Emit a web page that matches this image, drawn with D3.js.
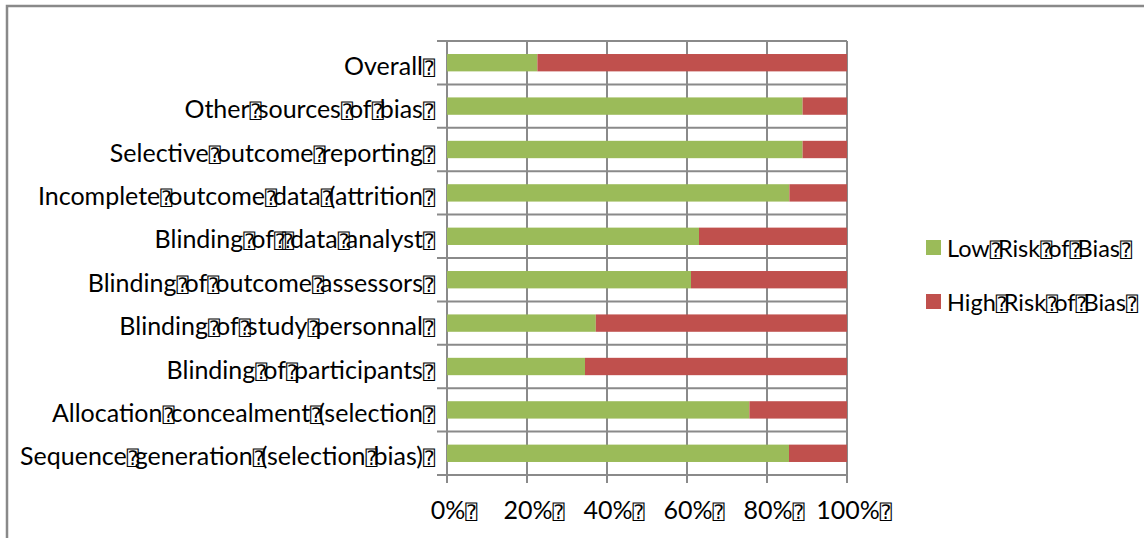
<!DOCTYPE html>
<html><head><meta charset="utf-8">
<script src="https://cdn.jsdelivr.net/npm/d3@7"></script>
<style>
body{margin:0;background:#fff}
text{font-family:Lato, "Open Sans", sans-serif; fill:#000}
.box{font-family:"DejaVu Sans Mono", monospace; font-size:20px; letter-spacing:-4px}
</style>
</head><body><svg id="c" width="1144" height="538"></svg>
<script>
const categories = ["Overall","Other sources of bias","Selective outcome reporting","Incomplete outcome data (attrition","Blinding of  data analyst","Blinding of outcome assessors","Blinding of study personnal","Blinding of participants","Allocation concealment (selection","Sequence generation (selection bias)"];
const lowRisk  = [0.226,0.889,0.889,0.856,0.630,0.610,0.372,0.345,0.756,0.855];
const highRisk = [0.774,0.111,0.111,0.144,0.370,0.390,0.628,0.655,0.244,0.145];
const seriesNames = ["Low Risk of Bias","High Risk of Bias"];
const seriesColors = ["#9BBB59","#C0504D"];
const tickValues = [0,0.2,0.4,0.6,0.8,1];
const tickLabels = ["0%","20%","40%","60%","80%","100%"];
const BOX = "\u2370";

(function(){
const svg = d3.select("#c");
svg.append("rect").attr("width",1144).attr("height",538).attr("fill","#fff");
svg.append("rect").attr("x",7).attr("y",6).attr("width",1200).attr("height",700)
  .attr("fill","none").attr("stroke","#898989").attr("stroke-width",2.5);

const x = d3.scaleLinear().domain([0,1]).range([447,847]);
const y = d3.scaleBand().domain(categories).range([41,475]).paddingInner(0.6).paddingOuter(0.3);
const step = y.step();
const plotTop = 41, plotBottom = 475;
const grid = "#8a8a8a";

svg.append("g").selectAll("line").data(tickValues).join("line")
  .attr("x1",d=>x(d)).attr("x2",d=>x(d)).attr("y1",plotTop).attr("y2",plotBottom+8)
  .attr("stroke",grid).attr("stroke-width",2);
const bounds = d3.range(categories.length+1).map(i=>plotTop+i*step);
svg.append("g").selectAll("line").data(bounds).join("line")
  .attr("x1",437).attr("x2",x(1)).attr("y1",d=>d).attr("y2",d=>d)
  .attr("stroke",grid).attr("stroke-width",2);

const stacked = categories.map((c,i)=>({c, low:lowRisk[i], high:highRisk[i]}));
svg.append("g").selectAll("rect").data(stacked).join("rect")
  .attr("x",x(0)).attr("y",d=>y(d.c)).attr("width",d=>x(d.low)-x(0)).attr("height",y.bandwidth())
  .attr("fill",seriesColors[0]);
svg.append("g").selectAll("rect").data(stacked).join("rect")
  .attr("x",d=>x(d.low)).attr("y",d=>y(d.c)).attr("width",d=>x(d.low+d.high)-x(d.low)).attr("height",y.bandwidth())
  .attr("fill",seriesColors[1]);

function boxed(sel, str){
  const words = str.split(" ");
  words.forEach(w=>{
    if(w.length) sel.append("tspan").text(w);
    sel.append("tspan").attr("class","box").text(BOX);
  });
}

categories.forEach(c=>{
  const t = svg.append("text").attr("x",431).attr("y",y(c)+y.bandwidth()/2+12)
    .attr("text-anchor","end").style("font-size","25px");
  boxed(t,c);
});

tickValues.forEach((v,i)=>{
  const t = svg.append("text").attr("x",x(v)+5).attr("y",519)
    .attr("text-anchor","middle").style("font-size","25px");
  boxed(t,tickLabels[i]);
});

seriesNames.forEach((s,i)=>{
  const yy = 240 + i*54;
  svg.append("rect").attr("x",926).attr("y",yy).attr("width",15).attr("height",15).attr("fill",seriesColors[i]);
  const t = svg.append("text").attr("x",947).attr("y",yy+17).style("font-size","23.5px");
  boxed(t,s);
});
})();
</script></body></html>
